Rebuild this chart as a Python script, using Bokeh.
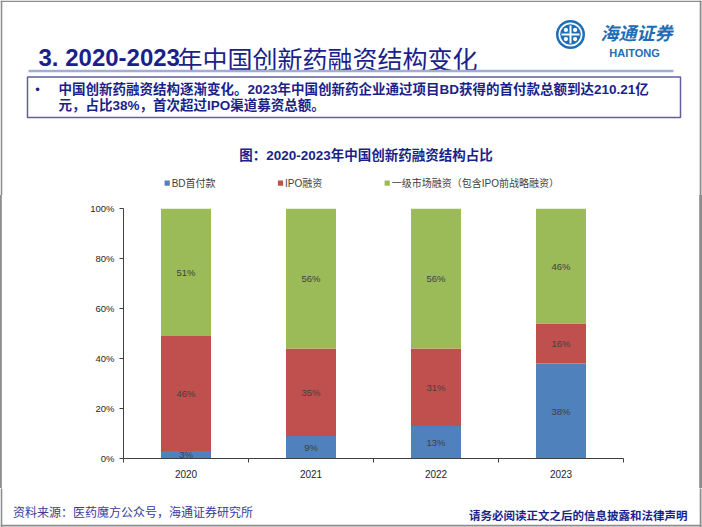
import numpy as np
from bokeh.plotting import figure
from bokeh.models import Range1d, FixedTicker, PrintfTickFormatter, ColumnDataSource
from bokeh.core.properties import value
from bokeh.embed import file_html
from bokeh.resources import INLINE

# ---------------- data ----------------
years = ["2020", "2021", "2022", "2023"]
series_names = ["BD首付款", "IPO融资", "一级市场融资（包含IPO前战略融资）"]
bd_upfront = [3, 9, 13, 38]
ipo_financing = [46, 35, 31, 16]
primary_market = [51, 56, 56, 46]
y_ticks = [0, 20, 40, 60, 80, 100]

title_num = "3. 2020-2023"
title_cjk = "年中国创新药融资结构变化"
bullet_line1 = "中国创新药融资结构逐渐变化。2023年中国创新药企业通过项目BD获得的首付款总额到达210.21亿"
bullet_line2 = "元，占比38%，首次超过IPO渠道募资总额。"
chart_title = "图：2020-2023年中国创新药融资结构占比"
source_note = "资料来源：医药魔方公众号，海通证券研究所"
disclaimer = "请务必阅读正文之后的信息披露和法律声明"

# ---------------- styles ----------------
colors = ["#4F81BD", "#C0504D", "#9BBB59"]
navy = "#1B1F8A"
latin = "Liberation Sans"
mixed = "Liberation Sans, Noto Sans CJK SC"
cjk = "Noto Sans CJK SC"
W, H = 702, 527
TOP_H = 195          # header figure: page y 0..195
CH_TOP, CH_FRAME, CH_BOT = 13, 250, 30   # chart figure: page y 195..488
BOT_Y0 = TOP_H + CH_TOP + CH_FRAME + CH_BOT
border_col = "#8C8C8C"


def pixel_fig(y0, y1):
    f = figure(frame_width=W, frame_height=y1 - y0,
               x_range=Range1d(0, W), y_range=Range1d(y1, y0),
               x_axis_type=None, y_axis_type=None,
               min_border=0, output_backend="svg",
               toolbar_location=None, tools="")
    f.outline_line_color = None
    f.grid.visible = False
    return f


def txt(f, x, y, text, font, size, color, style="normal", align="left", base="middle"):
    f.text(x=[x], y=[y], text=[text], text_font=value(font), text_font_size=size,
           text_color=color, text_font_style=style, text_align=align, text_baseline=base)


def rect(f, l, r, t, b, fill=None, line=None, lw=1.0):
    f.quad(left=[l], right=[r], top=[t], bottom=[b],
           fill_color=fill if fill else "white", fill_alpha=1.0 if fill else 0.0,
           line_color=line if line else "white", line_alpha=1.0 if line else 0.0,
           line_width=lw)


# ================= header =================
top = pixel_fig(0, TOP_H)
rect(top, 0, 1.8, TOP_H + 1, 0, fill=border_col)
rect(top, 699.2, 701, TOP_H + 1, 0, fill=border_col)
rect(top, 0, 701, 1.5, 0, fill=border_col)

txt(top, 38, 57, title_num, latin, "24px", navy, style="bold", base="alphabetic")
txt(top, 177, 57, title_cjk, cjk, "25px", navy, base="alphabetic")
rect(top, 28, 673, 71.8, 69.3, fill="#A3AECF")

logo_blue = "#1F6DB4"
cx, cy = 570, 34
top.circle(x=[cx], y=[cy], radius=14.5, fill_color=logo_blue, line_color=None)
top.circle(x=[cx], y=[cy], radius=12, fill_color="white", line_color=None)
top.circle(x=[cx], y=[cy], radius=10.3, fill_color=logo_blue, line_color=None)
rect(top, cx - 9, cx + 9, cy + 1, cy - 1, fill="white")
rect(top, cx - 1, cx + 1, cy + 9, cy - 9, fill="white")
top.circle(x=[cx - 4.6, cx + 4.6, cx - 4.6, cx + 4.6], y=[cy - 4.6, cy - 4.6, cy + 4.6, cy + 4.6],
           radius=2.1, fill_color="white", line_color=None)
txt(top, 636, 31, "海通证券", cjk, "18px", logo_blue, style="bold italic", align="center")
txt(top, 634, 52.5, "HAITONG", latin, "11px", logo_blue, style="bold", align="center", base="alphabetic")

rect(top, 27, 680, 117, 76.5, line="#5F5F9E", lw=1.5)
txt(top, 37, 89, "•", latin, "13px", navy, align="center")
txt(top, 58, 89, bullet_line1, mixed, "13.5px", navy, style="bold")
txt(top, 58, 104.5, bullet_line2, mixed, "13.5px", navy, style="bold")

txt(top, 365.5, 155, chart_title, mixed, "13.5px", navy, style="bold", align="center")

leg_x = [166.7, 280.0, 386.7]
for xx, name, col in zip(leg_x, series_names, colors):
    rect(top, xx - 2.6, xx + 2.6, 185.3, 180.1, fill=col)
    txt(top, xx + 4.5, 182.7, name, mixed, "10px", "#404040")

# ================= chart =================
n = len(years)
xc = np.arange(n) + 0.5
src = ColumnDataSource(dict(x=xc, bd=bd_upfront, ipo=ipo_financing, pm=primary_market))

p = figure(frame_width=500, frame_height=CH_FRAME,
           min_border_left=123, min_border_right=W - 123 - 500,
           min_border_top=CH_TOP, min_border_bottom=CH_BOT,
           x_range=Range1d(0, n), y_range=Range1d(0, 100),
           output_backend="svg", toolbar_location=None, tools="",
           styles={"box-shadow": f"inset 1.8px 0 0 0 {border_col}, inset -2.8px 0 0 0 {border_col}",
                   "background-color": "white"})
p.outline_line_color = None
p.grid.visible = False
p.border_fill_alpha = 0.0
p.background_fill_color = "white"

p.vbar_stack(["bd", "ipo", "pm"], x="x", width=0.4, color=colors,
             line_color=None, source=src)

bd = np.array(bd_upfront, float)
ipo = np.array(ipo_financing, float)
pm = np.array(primary_market, float)
lx = np.concatenate([xc, xc, xc])
ly = np.concatenate([bd / 2, bd + ipo / 2, bd + ipo + pm / 2])
lt = [f"{v}%" for v in bd_upfront + ipo_financing + primary_market]
p.text(x=lx, y=ly, text=lt, text_align="center", text_baseline="middle",
       text_font=value(latin), text_font_size="9.5px", text_color="#404040")

ax_col = "#404040"
p.yaxis.ticker = FixedTicker(ticks=y_ticks)
p.yaxis.formatter = PrintfTickFormatter(format="%d%%")
p.yaxis.axis_line_color = ax_col
p.yaxis.major_tick_line_color = ax_col
p.yaxis.major_tick_in = 0
p.yaxis.major_tick_out = 4
p.yaxis.minor_tick_line_color = None
p.yaxis.major_label_standoff = 5
p.yaxis.major_label_text_font = latin
p.yaxis.major_label_text_font_size = "9.5px"
p.yaxis.major_label_text_color = "#262626"

p.xaxis.ticker = FixedTicker(ticks=list(xc), minor_ticks=list(range(n + 1)))
p.xaxis.major_label_overrides = {float(c): y for c, y in zip(xc, years)}
p.xaxis.axis_line_color = ax_col
p.xaxis.major_tick_line_color = None
p.xaxis.major_tick_in = 0
p.xaxis.major_tick_out = 0
p.xaxis.minor_tick_line_color = ax_col
p.xaxis.minor_tick_in = 0
p.xaxis.minor_tick_out = 4
p.xaxis.major_label_standoff = 7
p.xaxis.major_label_text_font = latin
p.xaxis.major_label_text_font_size = "10px"
p.xaxis.major_label_text_color = "#262626"

# ================= footer =================
bot = pixel_fig(BOT_Y0, H)
rect(bot, 0, 1.8, H, BOT_Y0 - 1, fill=border_col)
rect(bot, 699.2, 701, H, BOT_Y0 - 1, fill=border_col)
rect(bot, 0, 701, 526, 524.2, fill=border_col)
txt(bot, 12.5, 510.7, source_note, cjk, "12px", "#3A3A9E")
txt(bot, 687, 514, disclaimer, cjk, "11.5px", navy, style="bold", align="right")

# three independent roots stacked on the page (no frame alignment between them)
open("out.html", "w").write(file_html([top, p, bot], INLINE))
